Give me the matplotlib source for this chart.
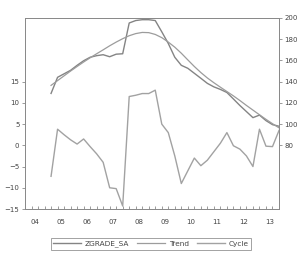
import matplotlib
matplotlib.use("Agg")
import matplotlib.pyplot as plt
import numpy as np
import pandas as pd

# quarterly sample
periods = pd.period_range("2004Q4", "2013Q3", freq="Q")
years = ["04", "05", "06", "07", "08", "09", "10", "11", "12", "13"]

# right axis series
zgrade_sa = [128.9, 144.1, 147.4, 150.7, 155.4, 159.7, 163.0, 164.5, 165.4, 163.5,
             165.9, 166.3, 195.3, 197.6, 198.4, 198.4, 197.6, 187.0, 176.0, 163.0,
             155.4, 152.6, 147.9, 143.2, 138.4, 135.1, 132.7, 129.8, 123.7, 117.5,
             111.8, 106.1, 108.5, 103.3, 99.5, 98.0]
trend = [136.5, 141.0, 145.5, 150.0, 154.3, 158.5, 162.5, 166.3, 170.0, 173.8,
         177.3, 180.5, 183.3, 185.3, 186.4, 186.2, 184.5, 181.5, 177.3, 172.5,
         166.8, 160.5, 154.3, 148.6, 143.5, 139.0, 134.8, 130.7, 126.6, 122.2,
         117.6, 113.2, 108.8, 104.5, 100.4, 96.5]
# left axis series
cycle = [-7.3, 3.8, 2.5, 1.3, 0.3, 1.5, -0.3, -2.0, -4.0, -10.0,
         -10.2, -14.3, 11.5, 11.8, 12.2, 12.2, 13.0, 5.0, 3.0, -2.5,
         -9.0, -6.0, -3.0, -4.8, -3.5, -1.5, 0.5, 3.0, -0.1, -0.9,
         -2.5, -5.0, 3.8, -0.2, -0.3, 3.5]

x = np.array([p.year + (p.quarter - 1) / 4 for p in periods])

txt = "#444444"
edge = "#8a8a8a"

fig = plt.figure(figsize=(3.0, 2.59), dpi=100)
ax = fig.add_axes([25 / 300, 1 - 209 / 259, 254 / 300, 191 / 259])
ax2 = ax.twinx()

l3, = ax.plot(x, cycle, color="#a2a2a2", lw=1.0)
l1, = ax2.plot(x, zgrade_sa, color="#848484", lw=1.0)
l2, = ax2.plot(x, trend, color="#9c9c9c", lw=0.9)

ax.set_xlim(2003.75, 2013.5)
ax.set_ylim(-15, 30)
ax2.set_ylim(20, 200)
ax.set_yticks([-15, -10, -5, 0, 5, 10, 15])
ax2.set_yticks([80, 100, 120, 140, 160, 180, 200])

year_pos = [int("20" + y) + 0.125 for y in years]
ax.set_xticks(year_pos)
ax.set_xticklabels(years)
ax.set_xticks(np.arange(2003.75, 2013.51, 0.25), minor=True)
ax.tick_params(axis="x", which="major", length=0, pad=7, labelsize=5, labelcolor=txt)
ax.tick_params(axis="x", which="minor", length=2, direction="in", color=edge, width=0.6)
ax.tick_params(axis="y", length=2.5, width=0.6, color=edge, labelsize=5, labelcolor=txt, pad=1.5)
ax2.tick_params(axis="y", length=2.5, width=0.6, color=edge, labelsize=5, labelcolor=txt, pad=1.5)

for a in (ax, ax2):
    for s in a.spines.values():
        s.set_color(edge)
        s.set_linewidth(0.7)

leg = fig.legend([l1, l2, l3], ["ZGRADE_SA", "Trend", "Cycle"], loc="center",
                 bbox_to_anchor=(151 / 300, 1 - 244 / 259), ncol=3, fontsize=5.3,
                 frameon=True, fancybox=False, handlelength=3.8, columnspacing=1.1,
                 handletextpad=0.5, borderpad=0.35, labelcolor=txt)
leg.get_frame().set_edgecolor(edge)
leg.get_frame().set_linewidth(0.7)

fig.savefig("out.png", dpi=100)
